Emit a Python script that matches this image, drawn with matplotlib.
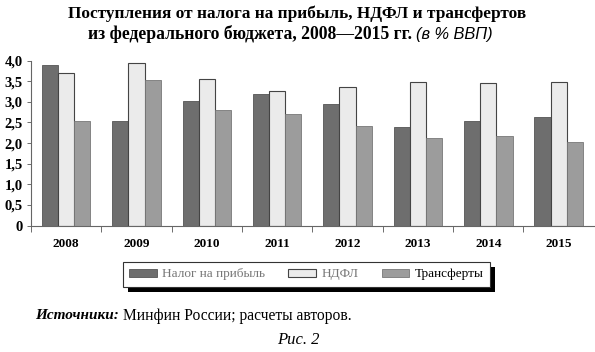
import numpy as np
import matplotlib.pyplot as plt
from matplotlib.patches import Rectangle

plt.rcParams['font.family'] = ['Liberation Serif', 'DejaVu Serif']

years = ['2008', '2009', '2010', '2011', '2012', '2013', '2014', '2015']
profit_tax = [3.88, 2.54, 3.03, 3.19, 2.94, 2.39, 2.54, 2.62]
ndfl = [3.69, 3.94, 3.56, 3.27, 3.35, 3.47, 3.45, 3.49]
transfers = [2.54, 3.53, 2.80, 2.70, 2.41, 2.12, 2.17, 2.02]
series_names = ['Налог на прибыль', 'НДФЛ', 'Трансферты']
yticks = [0, 0.5, 1.0, 1.5, 2.0, 2.5, 3.0, 3.5, 4.0]
ytick_labels = ['0', '0,5', '1,0', '1,5', '2,0', '2,5', '3,0', '3,5', '4,0']

fig = plt.figure(figsize=(5.95, 3.52), dpi=100)
ax = fig.add_axes([0.052, 0.359, 0.946, 0.469])

x = np.arange(len(years))
w = 0.23
b1 = ax.bar(x - w, profit_tax, w, color='#6e6e6e', edgecolor='#555555', linewidth=0.6)
b2 = ax.bar(x, ndfl, w, color='#ebebeb', edgecolor='#444444', linewidth=0.8)
b3 = ax.bar(x + w, transfers, w, color='#9c9c9c', edgecolor='#777777', linewidth=0.6)

ax.set_xlim(-0.45, len(years) - 0.5)
ax.set_ylim(0, 4.0)
ax.set_yticks(yticks)
ax.set_yticklabels(ytick_labels, fontsize=10.5, fontweight='bold')
ax.set_xticks(x)
ax.set_xticklabels(years, fontsize=9.5, fontweight='bold')
ax.tick_params(axis='x', length=0, pad=9)
ax.set_xticks(np.arange(len(years)) - 0.5, minor=True)
ax.tick_params(axis='x', which='minor', length=4, width=0.6, color='#555555')
ax.tick_params(axis='y', length=3, width=0.6, color='#555555', pad=3)
for s in ['top', 'right']:
    ax.spines[s].set_visible(False)
for s in ['left', 'bottom']:
    ax.spines[s].set_color('#666666')
    ax.spines[s].set_linewidth(0.8)

leg = fig.legend([b1, b2, b3], series_names, loc='center', bbox_to_anchor=(0.515, 0.221),
                 ncol=3, frameon=True, fancybox=False, shadow=False,
                 edgecolor='#333333', fontsize=9.5, handlelength=2.1, handleheight=0.55,
                 handletextpad=0.4, columnspacing=1.75, borderpad=0.5)
leg.get_frame().set_linewidth(0.8)
leg.get_frame().set_alpha(1)
for t, c in zip(leg.get_texts(), ['#777777', '#777777', 'black']):
    t.set_color(c)

# hard black shadow behind the legend box
fig.canvas.draw()
bb = leg.get_window_extent()
fig.add_artist(Rectangle((bb.x0 + 5, bb.y0 - 5), bb.width, bb.height, transform=None,
                         facecolor='black', edgecolor='none', zorder=leg.get_zorder() - 1))

fig.text(0.5, 0.962, 'Поступления от налога на прибыль, НДФЛ и трансфертов',
         ha='center', va='center', fontsize=12.4, fontweight='bold')
fig.text(0.692, 0.902, 'из федерального бюджета, 2008—2015 гг.',
         ha='right', va='center', fontsize=12.7, fontweight='bold')
fig.text(0.699, 0.902, '(в % ВВП)', ha='left', va='center', fontsize=11.8,
         fontstyle='italic', family=['Liberation Sans', 'DejaVu Sans'])

fig.text(0.059, 0.103, 'Источники:', ha='left', va='center', fontsize=11,
         fontstyle='italic', fontweight='bold')
fig.text(0.207, 0.103, 'Минфин России; расчеты авторов.', ha='left', va='center', fontsize=11.2)
fig.text(0.502, 0.035, 'Рис. 2', ha='center', va='center', fontsize=12, fontstyle='italic')

fig.savefig('out.png', dpi=100)
